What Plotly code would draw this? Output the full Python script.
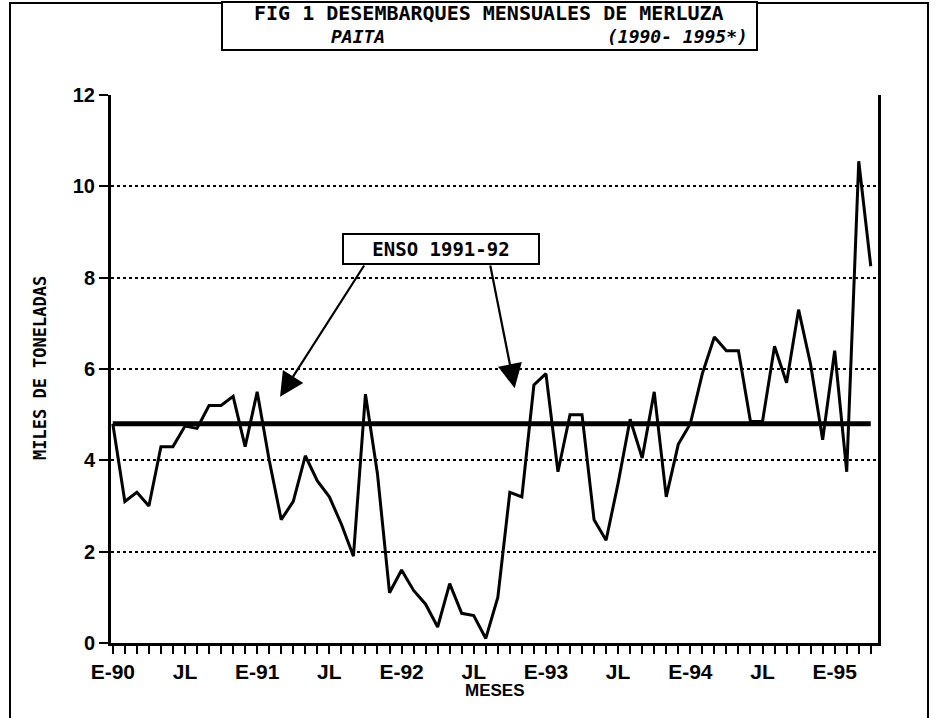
import plotly.graph_objects as go

# ---- data (monthly hake landings, Paita, thousand tonnes) ----
months = list(range(64))  # Jan 1990 .. Apr 1995
landings = [4.8, 3.1, 3.3, 3.0, 4.3, 4.3, 4.75, 4.7, 5.2, 5.2, 5.4, 4.3,
            5.5, 4.0, 2.7, 3.1, 4.1, 3.55, 3.2, 2.6, 1.9, 5.45, 3.7, 1.1,
            1.6, 1.15, 0.85, 0.35, 1.3, 0.65, 0.6, 0.1, 1.0, 3.3, 3.2, 5.65,
            5.9, 3.75, 5.0, 5.0, 2.7, 2.25, 3.5, 4.9, 4.05, 5.5, 3.2, 4.35,
            4.8, 5.9, 6.7, 6.4, 6.4, 4.85, 4.85, 6.5, 5.7, 7.3, 6.1, 4.45,
            6.4, 3.75, 10.55, 8.25]
mean_level = 4.8
tick_months = [0, 6, 12, 18, 24, 30, 36, 42, 48, 54, 60]
tick_labels = ["E-90", "JL", "E-91", "JL", "E-92", "JL", "E-93", "JL", "E-94", "JL", "E-95"]
y_ticks = [0, 2, 4, 6, 8, 10, 12]

W, H = 936, 718
PLOT_L, PLOT_R, PLOT_T, PLOT_B = 111, 878, 95, 643  # screen pixels
L, T, R, B = PLOT_L, PLOT_T, W - PLOT_R, H - PLOT_B
PW, PH = W - L - R, H - T - B


def px(xs):
    return (xs - PLOT_L) / PW


def py(ys):
    return (PLOT_B - ys) / PH


MONO = "DejaVu Sans Mono"
SANS = "Liberation Sans"

fig = go.Figure()
fig.add_trace(go.Scatter(x=months, y=landings, mode="lines",
                         line=dict(color="black", width=3), showlegend=False,
                         hoverinfo="skip"))
fig.add_trace(go.Scatter(x=[months[0], months[-1]], y=[mean_level, mean_level], mode="lines",
                         line=dict(color="black", width=5), showlegend=False,
                         hoverinfo="skip"))

shapes = [
    # outer page frame
    dict(type="rect", xref="paper", yref="paper", x0=px(10), x1=px(928), y0=py(740), y1=py(3),
         line=dict(color="black", width=2), layer="below"),
    # title box
    dict(type="rect", xref="paper", yref="paper", x0=px(222), x1=px(757), y0=py(50), y1=py(2),
         line=dict(color="black", width=2), fillcolor="white", layer="below"),
]

annotations = [
    dict(text="<b>FIG 1 DESEMBARQUES MENSUALES DE MERLUZA</b>", xref="paper", yref="paper",
         x=px(489), y=py(13), xanchor="center", yanchor="middle", showarrow=False,
         font=dict(family=MONO, size=20, color="black")),
    dict(text="<b><i>PAITA</i></b>", xref="paper", yref="paper",
         x=px(358), y=py(37), xanchor="center", yanchor="middle", showarrow=False,
         font=dict(family=MONO, size=18, color="black")),
    dict(text="<b><i>(1990- 1995*)</i></b>", xref="paper", yref="paper",
         x=px(750), y=py(37), xanchor="right", yanchor="middle", showarrow=False,
         font=dict(family=MONO, size=18, color="black")),
    dict(text="<b>MILES DE TONELADAS</b>", xref="paper", yref="paper",
         x=px(40), y=py(368), xanchor="center", yanchor="middle", showarrow=False,
         textangle=-90, font=dict(family=MONO, size=17, color="black")),
    dict(text="<b>MESES</b>", xref="paper", yref="paper",
         x=px(495), y=py(690), xanchor="center", yanchor="middle", showarrow=False,
         font=dict(family=SANS, size=17, color="black")),
    # ENSO label
    dict(text="<b>ENSO 1991-92</b>", x=27.3, y=8.63, xref="x", yref="y",
         showarrow=False, bordercolor="black", borderwidth=2, bgcolor="white",
         width=192, height=26, font=dict(family=MONO, size=19, color="black")),
    # arrows
    dict(text="", x=13.9, y=5.39, ax=20.97, ay=8.3, xref="x", yref="y", axref="x", ayref="y",
         showarrow=True, arrowhead=2, arrowsize=2.2, arrowwidth=2.2, arrowcolor="black"),
    dict(text="", x=33.4, y=5.58, ax=31.35, ay=8.3, xref="x", yref="y", axref="x", ayref="y",
         showarrow=True, arrowhead=2, arrowsize=2.2, arrowwidth=2.2, arrowcolor="black"),
]

fig.update_layout(
    width=W, height=H,
    margin=dict(l=L, r=R, t=T, b=B),
    paper_bgcolor="white", plot_bgcolor="white",
    shapes=shapes, annotations=annotations,
    xaxis=dict(range=[-0.15, 63.6], tickmode="array", tickvals=tick_months,
               ticktext=[f"<b>{t}</b>" for t in tick_labels],
               showgrid=False, zeroline=False, showline=True, linecolor="black", linewidth=3,
               ticks="outside", ticklen=8, tickwidth=2, tickcolor="black",
               tickfont=dict(family=SANS, size=21, color="black"),
               minor=dict(tickmode="linear", tick0=0, dtick=1, ticks="outside", ticklen=8,
                          tickwidth=2, tickcolor="black", showgrid=False)),
    yaxis=dict(range=[0, 12], tickmode="array", tickvals=y_ticks,
               ticktext=[f"<b>{v}</b>" for v in y_ticks],
               showgrid=True, gridcolor="black", griddash="dot", gridwidth=1.5,
               zeroline=False, showline=True, linecolor="black", linewidth=3, mirror=True,
               ticks="outside", ticklen=9, tickwidth=2, tickcolor="black",
               tickfont=dict(family=SANS, size=20, color="black")),
)

fig.write_html("out.html", config={"displayModeBar": False},
               post_script="document.body.style.margin='0';document.body.style.overflow='hidden';")
